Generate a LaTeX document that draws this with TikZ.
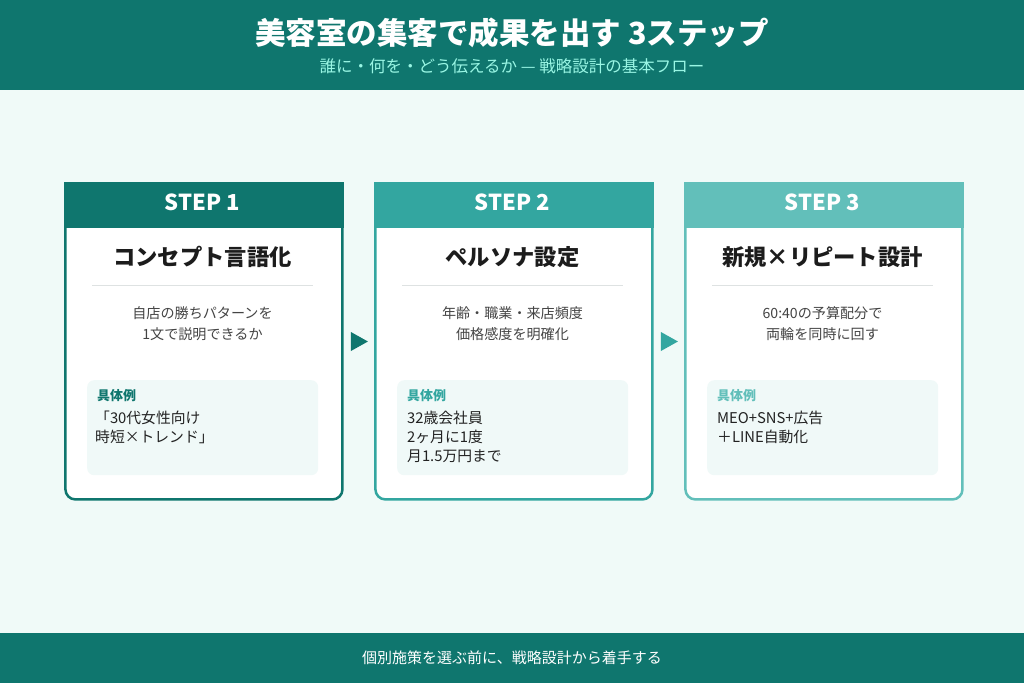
\documentclass[tikz,border=0pt]{standalone}
\usepackage{fontspec}
\setmainfont{Noto Sans CJK JP}
\usetikzlibrary{shapes.geometric}
\definecolor{tealA}{RGB}{15,118,110}
\definecolor{tealB}{RGB}{51,166,160}
\definecolor{tealC}{RGB}{98,191,186}
\definecolor{bgc}{RGB}{240,250,248}
\definecolor{subc}{RGB}{153,246,228}
\definecolor{exbg}{RGB}{240,249,248}
\definecolor{titc}{RGB}{28,28,28}
\definecolor{descc}{RGB}{68,68,68}
\definecolor{exc}{RGB}{34,34,34}
\definecolor{divc}{RGB}{222,226,226}
\tikzset{
  cardbody/.style={draw=#1, line width=2.5pt, fill=white, rounded corners=10pt, minimum width=277pt, minimum height=316pt, inner sep=0pt, anchor=north west},
  cardhead/.style={draw=#1, line width=2.5pt, fill=#1, minimum width=277pt, minimum height=43pt, inner sep=0pt, anchor=north west},
  steplabel/.style={text=white, font=\fontsize{22}{26}\selectfont\bfseries},
  cardtitle/.style={text=titc, font=\fontsize{22.3}{26}\selectfont\bfseries},
  desc/.style={text=descc, font=\fontsize{14.1}{21}\selectfont, align=center},
  exbox/.style={fill=exbg, rounded corners=7pt, minimum width=231pt, minimum height=95pt, inner sep=0pt, anchor=north west},
  exlabel/.style={text=#1, font=\fontsize{13}{15}\selectfont\bfseries, anchor=west, inner sep=0pt},
  extext/.style={text=exc, font=\fontsize{14.8}{19}\selectfont, align=left, anchor=north west, inner sep=0pt},
  arrowtri/.style={isosceles triangle, isosceles triangle stretches=true, fill=#1, minimum height=17pt, minimum width=19pt, inner sep=0pt, shape border rotate=0},
}
\begin{document}
\begin{tikzpicture}[x=1pt,y=-1pt]
\useasboundingbox (0,0) rectangle (1024,683);
\fill[bgc] (0,0) rectangle (1024,683);
\fill[tealA] (0,0) rectangle (1024,90);
\fill[tealA] (0,633) rectangle (1024,683);
\node[text=white, font=\fontsize{30.5}{34}\selectfont\bfseries] (title) at (512,33) {美容室の集客で成果を出す 3ステップ};
\node[text=subc, font=\fontsize{16.5}{20}\selectfont] (subtitle) at (512,66) {誰に・何を・どう伝えるか — 戦略設計の基本フロー};
\node[text=white, font=\fontsize{15}{18}\selectfont] (footer) at (512,658) {個別施策を選ぶ前に、戦略設計から着手する};

% card 1
\node[cardbody=tealA] (c1) at (64.2,182.2) {};
\node[cardhead=tealA] (h1) at (64.2,182.2) {};
\node[steplabel] (s1) at (202.5,202) {STEP 1};
\node[cardtitle] (t1) at (202.5,257) {コンセプト言語化};
\draw[divc, line width=0.8pt] (92,285) -- (313,285);
\node[desc] (d1) at (202.5,324) {自店の勝ちパターンを\\1文で説明できるか};
\node[exbox] (e1) at (87,380) {};
\node[exlabel=tealA] (l1) at (97,396) {具体例};
\node[extext] (x1) at (95,411) {「30代女性向け\\時短×トレンド」};

% card 2
\node[cardbody=tealB] (c2) at (374.2,182.2) {};
\node[cardhead=tealB] (h2) at (374.2,182.2) {};
\node[steplabel] (s2) at (512.5,202) {STEP 2};
\node[cardtitle] (t2) at (512.5,257) {ペルソナ設定};
\draw[divc, line width=0.8pt] (402,285) -- (623,285);
\node[desc] (d2) at (512.5,324) {年齢・職業・来店頻度\\価格感度を明確化};
\node[exbox] (e2) at (397,380) {};
\node[exlabel=tealB] (l2) at (407,396) {具体例};
\node[extext] (x2) at (407,411) {32歳会社員\\2ヶ月に1度\\月1.5万円まで};

% card 3
\node[cardbody=tealC] (c3) at (684.2,182.2) {};
\node[cardhead=tealC] (h3) at (684.2,182.2) {};
\node[steplabel] (s3) at (822.5,202) {STEP 3};
\node[cardtitle] (t3) at (822.5,257) {新規×リピート設計};
\draw[divc, line width=0.8pt] (712,285) -- (933,285);
\node[desc] (d3) at (822.5,324) {60:40の予算配分で\\両輪を同時に回す};
\node[exbox] (e3) at (707,380) {};
\node[exlabel=tealC] (l3) at (717,396) {具体例};
\node[extext] (x3) at (717,411) {MEO+SNS+広告\\＋LINE自動化};

% arrows
\node[arrowtri=tealA] (a1) at (356.5,341.5) {};
\node[arrowtri=tealB] (a2) at (666.5,341.5) {};
\end{tikzpicture}
\end{document}
